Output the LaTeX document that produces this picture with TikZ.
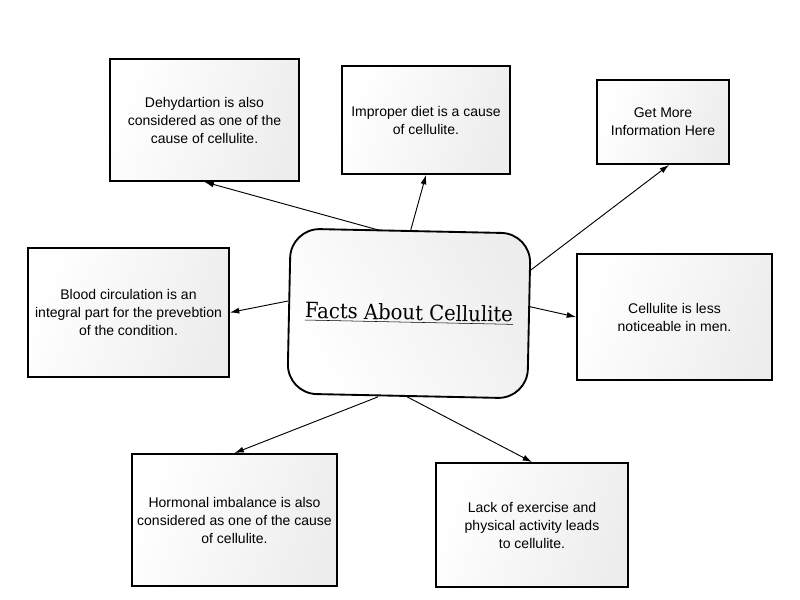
\documentclass[tikz,border=0pt]{standalone}
\usepackage{fontspec}
\setmainfont{Liberation Sans}
\newfontfamily\titlefont[FakeStretch=0.93]{DejaVu Serif}
\usetikzlibrary{arrows.meta,shadows}
\begin{document}
\begin{tikzpicture}[x=0.75pt,y=-0.75pt,
  box/.style={draw=black, line width=1.4pt, left color=white, right color=black!7,
    shading angle=70, align=center, inner sep=2pt,
    font=\fontsize{10.5pt}{13.5pt}\selectfont,
    drop shadow={shadow xshift=1.1pt, shadow yshift=-1.1pt, fill=black!45, opacity=0.7}},
  hub/.style={draw=black, line width=1.4pt, rounded corners=22pt, left color=white,
    right color=black!7, shading angle=120, align=center, rotate=-1.2,
    minimum width=180pt, minimum height=123.75pt,
    font=\titlefont\fontsize{15.8pt}{19pt}\selectfont},
  arr/.style={draw=black, line width=0.7pt, -{Latex[length=7pt,width=4.5pt]}}]
\useasboundingbox (0,0) rectangle (800,600);
\fill[white] (0,0) rectangle (800,600);

\node[hub] (c) at (409,313.5) {\underline{Facts About Cellulite}};

\node[box, minimum width=141.75pt, minimum height=91.5pt] (dehyd) at (204.5,120)
  {Dehydartion is also\\considered as one of the\\cause of cellulite.};
\node[box, minimum width=126pt, minimum height=81pt] (diet) at (426,120)
  {Improper diet is a cause\\of cellulite.};
\node[box, minimum width=99pt, minimum height=63pt] (info) at (663,122)
  {Get More\\Information Here};
\node[box, minimum width=150.75pt, minimum height=96.75pt] (blood) at (128.5,312.5)
  {Blood circulation is an\\integral part for the prevebtion\\of the condition.};
\node[box, minimum width=146.25pt, minimum height=94.5pt] (less) at (674.5,317)
  {Cellulite is less\\noticeable in men.};
\node[box, minimum width=153.75pt, minimum height=99pt] (horm) at (234.5,520)
  {Hormonal imbalance is also\\considered as one of the cause\\of cellulite.};
\node[box, minimum width=144pt, minimum height=93pt] (lack) at (532,525)
  {Lack of exercise and\\physical activity leads\\to cellulite.};

\draw[arr] ([xshift=-24pt]c.north) -- (dehyd.south);
\draw[arr] (c.north) -- (diet.south);
\draw[arr] ([yshift=34pt]c.east) -- ([xshift=4.5pt]info.south);
\draw[arr] ([yshift=7.5pt]c.west) -- (blood.east);
\draw[arr] ([yshift=7pt]c.east) -- (less.west);
\draw[arr] ([xshift=-22pt]c.south) -- (horm.north);
\draw[arr] (c.south) -- (lack.north);
\end{tikzpicture}
\end{document}
